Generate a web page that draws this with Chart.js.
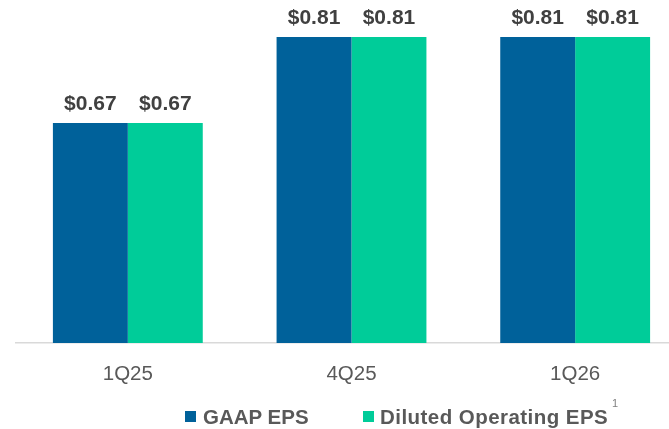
<!DOCTYPE html>
<html>
<head>
<meta charset="utf-8">
<script src="https://cdn.jsdelivr.net/npm/chart.js@4.4.1/dist/chart.umd.min.js"></script>
<style>
  html, body { margin:0; padding:0; background:#fff; overflow:hidden; width:669px; height:429px; }
  #wrap { position:absolute; left:0; top:0; width:690px; height:429px; }
  .leg { position:absolute; font-family:"Liberation Sans", Arial, sans-serif; font-weight:bold; font-size:20.5px; color:#595959; line-height:1; white-space:nowrap; }
  .sq { position:absolute; width:11px; height:11px; }
  .sup { position:absolute; font-family:"Liberation Sans", Arial, sans-serif; font-size:11px; color:#7f7f7f; line-height:1; }
</style>
</head>
<body>
<div id="wrap"><canvas id="c"></canvas></div>
<div class="sq" style="left:185px;top:411px;background:#00619A;"></div>
<div class="leg" style="left:203px;top:407px;">GAAP EPS</div>
<div class="sq" style="left:363px;top:411px;background:#00CC99;"></div>
<div class="leg" style="left:380px;top:407px;letter-spacing:0.45px;">Diluted Operating EPS</div>
<div class="sup" style="left:612px;top:398px;">1</div>
<script>
const categories = ["1Q25", "4Q25", "1Q26"];
const gaapEPS = [0.67, 0.81, 0.81];
const dilutedOperatingEPS = [0.67, 0.81, 0.81];
const seriesNames = ["GAAP EPS", "Diluted Operating EPS"];

const labelPlugin = {
  id: 'valueLabels',
  afterDatasetsDraw(chart) {
    const ctx = chart.ctx;
    ctx.save();
    ctx.font = 'bold 21px "Liberation Sans", Arial, sans-serif';
    ctx.fillStyle = '#404040';
    ctx.textAlign = 'center';
    ctx.textBaseline = 'middle';
    chart.data.datasets.forEach((ds, i) => {
      chart.getDatasetMeta(i).data.forEach((bar, j) => {
        ctx.fillText('$' + ds.data[j].toFixed(2), bar.x, bar.y - 19);
      });
    });
    ctx.restore();
  }
};

new Chart(document.getElementById('c'), {
  type: 'bar',
  data: {
    labels: categories,
    datasets: [
      { label: seriesNames[0], data: gaapEPS, backgroundColor: '#00619A', categoryPercentage: 0.67, barPercentage: 1.0 },
      { label: seriesNames[1], data: dilutedOperatingEPS, backgroundColor: '#00CC99', categoryPercentage: 0.67, barPercentage: 1.0 }
    ]
  },
  options: {
    responsive: true,
    maintainAspectRatio: false,
    animation: false,
    layout: { padding: { left: 16, right: 3, top: 0, bottom: 0 } },
    plugins: { legend: { display: false }, tooltip: { enabled: false } },
    scales: {
      x: {
        grid: { display: false, drawTicks: false },
        border: { display: true, color: '#d9d9d9', width: 1.5 },
        ticks: { color: '#595959', font: { family: '"Liberation Sans", Arial, sans-serif', size: 20.5 }, padding: 19 },
        afterFit(scale) { scale.height = 86; }
      },
      y: {
        display: false,
        min: 0.312,
        max: 0.870
      }
    }
  },
  plugins: [labelPlugin]
});
</script>
</body>
</html>
